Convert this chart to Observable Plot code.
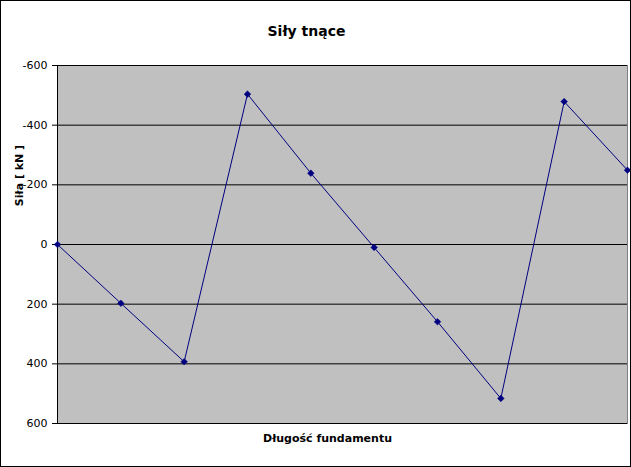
<!DOCTYPE html>
<html>
<head>
<meta charset="utf-8">
<script src="https://cdn.jsdelivr.net/npm/d3@7"></script>
<script src="https://cdn.jsdelivr.net/npm/@observablehq/plot@0.6"></script>
<style>
  body { margin: 0; background: #fff; }
  svg { display: block; outline: 1px solid #000; outline-offset: -1px; }
</style>
</head>
<body>
<div id="chart"></div>
<script>
const title = "Siły tnące";
const xLabel = "Długość fundamentu";
const yLabel = "Siła [ kN ]";
const positions = [0, 1, 2, 3, 4, 5, 6, 7, 8, 9];
const forces = [0, 197, 393, -504, -239, 10, 259, 516, -479, -249];
const yTicks = [-600, -400, -200, 0, 200, 400, 600];

const data = positions.map((p, i) => ({x: p, y: forces[i]}));

const chart = Plot.plot({
  width: 631,
  height: 467,
  marginLeft: 57,
  marginRight: 4,
  marginTop: 65,
  marginBottom: 44,
  style: {fontFamily: "DejaVu Sans", fontSize: "11px", color: "#000", background: "#fff"},
  x: {domain: [0, 9], axis: null},
  y: {domain: [-600, 600], reverse: true},
  marks: [
    Plot.frame({fill: "#c0c0c0", stroke: "#808080"}),
    Plot.ruleY(yTicks, {stroke: "#000", strokeWidth: 1}),
    Plot.ruleX([0], {stroke: "#000", strokeWidth: 1}),
    Plot.axisY({ticks: yTicks, tickSize: 5, tickPadding: 5, label: null, tickFormat: d => String(d), fontSize: 11}),
    Plot.line(data, {x: "x", y: "y", stroke: "#000080", strokeWidth: 1}),
    Plot.dot(data, {x: "x", y: "y", symbol: "diamond2", r: 3, fill: "#000080", stroke: "#000080", strokeWidth: 0.5}),
    Plot.text([title], {frameAnchor: "top", dx: -36, dy: -34, text: d => d, fontSize: 14, fontWeight: "bold", lineAnchor: "middle", textAnchor: "middle"}),
    Plot.text([xLabel], {frameAnchor: "bottom", dx: -15, dy: 15, text: d => d, fontSize: 11, fontWeight: "bold", lineAnchor: "middle", textAnchor: "middle"}),
    Plot.text([yLabel], {frameAnchor: "left", dx: -38, dy: -69, rotate: -90, text: d => d, fontSize: 11, fontWeight: "bold", lineAnchor: "middle", textAnchor: "middle"})
  ]
});
document.getElementById("chart").append(chart);
</script>
</body>
</html>
